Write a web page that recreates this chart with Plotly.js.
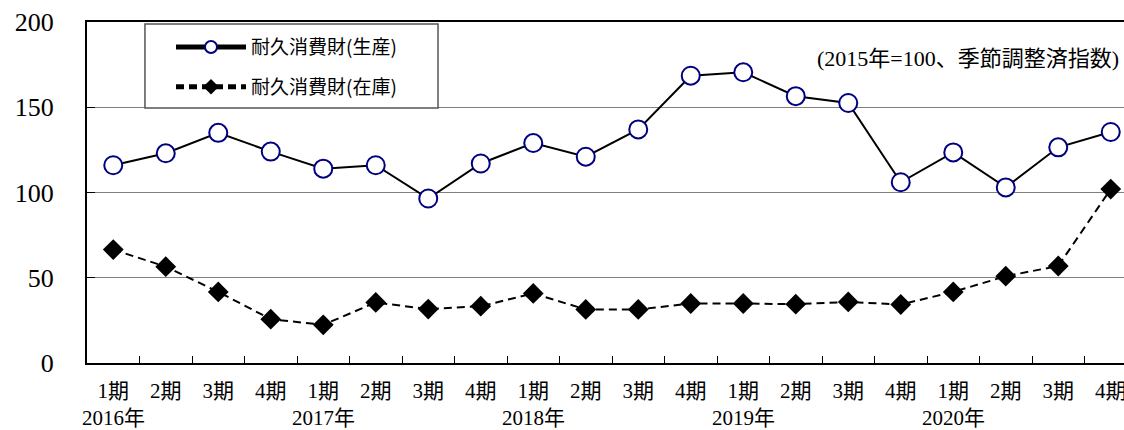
<!DOCTYPE html>
<html>
<head>
<meta charset="utf-8">
<script src="https://cdn.plot.ly/plotly-3.0.1.min.js"></script>
<style>
  html, body { margin: 0; padding: 0; background: #fff; overflow: hidden; }
  #chart { width: 1150px; height: 430px; }
</style>
</head>
<body>
<div id="chart"></div>
<script>
// 데이터
const years = ["2016年", "2017年", "2018年", "2019年", "2020年"];
const quarters = ["1期", "2期", "3期", "4期"];
const production = [116, 123, 135, 124, 114, 116, 96.5, 117, 129, 121, 137, 168.5, 170.5, 156.5, 152.5, 106, 123.5, 103, 126.5, 135.5];
const inventory = [66.5, 56.5, 41.7, 25.7, 22.4, 35.5, 31.6, 33.3, 40.8, 31.4, 31.4, 34.9, 34.9, 34.5, 35.8, 34.3, 41.7, 50.9, 56.9, 102];
const noteText = "(2015年=100、季節調整済指数)";

// 카테고리 (연도 x 분기)
const periods = [];
const periodLabels = [];
years.forEach((y) => {
  quarters.forEach((q) => {
    periods.push(y + q);
    periodLabels.push(q);
  });
});

const serif = "Liberation Serif, Noto Sans CJK JP, serif";
const gothic = "Noto Sans CJK JP, sans-serif";

const traceProd = {
  x: periods,
  y: production,
  type: "scatter",
  mode: "lines+markers",
  name: "耐久消費財(生産)",
  legendgroup: "a",
  line: { color: "#000000", width: 2 },
  marker: { symbol: "circle", size: 18, color: "#ffffff", line: { color: "#000080", width: 2 } },
};

const traceInv = {
  x: periods,
  y: inventory,
  type: "scatter",
  mode: "lines+markers",
  name: "耐久消費財(在庫)",
  legendgroup: "b",
  line: { color: "#000000", width: 2, dash: "8px,5px" },
  marker: { symbol: "diamond", size: 16, color: "#000000" },
};

// 연도 라벨 (각 연도의 1期 아래)
const yearAnnotations = years.map((y) => ({
  x: y + quarters[0],
  y: -0.161,
  xref: "x",
  yref: "paper",
  text: y,
  showarrow: false,
  xanchor: "center",
  yanchor: "middle",
  font: { family: serif, size: 21, color: "#000" },
}));

const layout = {
  width: 1150,
  height: 430,
  margin: { l: 87, r: 13, t: 22, b: 67 },
  paper_bgcolor: "#ffffff",
  plot_bgcolor: "#ffffff",
  showlegend: true,
  legend: {
    x: 0.08,
    y: 0.982,
    xanchor: "left",
    yanchor: "top",
    bgcolor: "rgba(0,0,0,0)",
    borderwidth: 0,
    itemwidth: 70,
    itemsizing: "constant",
    tracegroupgap: 12,
    font: { family: gothic, size: 19, color: "#000" },
  },
  xaxis: {
    type: "category",
    categoryorder: "array",
    categoryarray: periods,
    range: [-0.5, periods.length - 0.5],
    tickvals: periods,
    ticktext: periodLabels,
    tickson: "boundaries",
    ticks: "inside",
    ticklen: 7,
    tickwidth: 1,
    tickcolor: "#000",
    ticklabelstandoff: 8,
    showgrid: false,
    showline: true,
    linecolor: "#000",
    linewidth: 2,
    mirror: true,
    tickfont: { family: serif, size: 21, color: "#000" },
    fixedrange: true,
  },
  yaxis: {
    range: [0, 200],
    tickvals: [0, 50, 100, 150, 200],
    ticks: "inside",
    ticklen: 8,
    tickwidth: 1,
    tickcolor: "#000",
    ticklabelstandoff: 26,
    showgrid: true,
    gridcolor: "#808080",
    gridwidth: 1,
    zeroline: false,
    showline: true,
    linecolor: "#000",
    linewidth: 2,
    tickfont: { family: serif, size: 26, color: "#000" },
    fixedrange: true,
  },
  shapes: [
    // 100 기준선
    { type: "line", xref: "paper", yref: "y", x0: 0, x1: 1, y0: 100, y1: 100, line: { color: "#000", width: 1 }, layer: "below" },
    // 범례 테두리
    { type: "rect", xref: "paper", yref: "paper", x0: 0.0552, x1: 0.3343, y0: 0.748, y1: 0.994, fillcolor: "#ffffff", line: { color: "#555", width: 1.5 }, layer: "above" },
  ],
  annotations: [
    {
      x: 0.985,
      y: 0.892,
      xref: "paper",
      yref: "paper",
      text: noteText,
      showarrow: false,
      xanchor: "right",
      yanchor: "middle",
      font: { family: serif, size: 22, color: "#000" },
    },
  ].concat(yearAnnotations),
};

Plotly.newPlot("chart", [traceProd, traceInv], layout, { displayModeBar: false, staticPlot: true });
</script>
</body>
</html>
